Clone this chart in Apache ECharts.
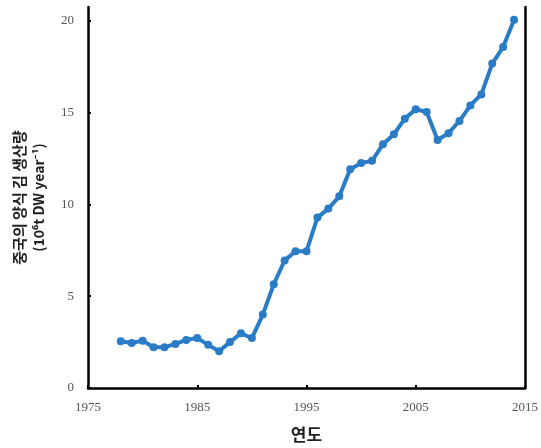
<!DOCTYPE html>
<html>
<head>
<meta charset="utf-8">
<script src="https://cdn.jsdelivr.net/npm/echarts@6/dist/echarts.min.js"></script>
<style>
  html, body { margin: 0; padding: 0; background: #fff; }
  #chart { width: 541px; height: 448px; }
</style>
</head>
<body>
<div id="chart"></div>
<script>
// 연도별 중국 양식 김 생산량
const years = [1978, 1979, 1980, 1981, 1982, 1983, 1984, 1985, 1986, 1987,
  1988, 1989, 1990, 1991, 1992, 1993, 1994, 1995, 1996, 1997,
  1998, 1999, 2000, 2001, 2002, 2003, 2004, 2005, 2006, 2007,
  2008, 2009, 2010, 2011, 2012, 2013, 2014]
const production = [2.55, 2.45, 2.58, 2.22, 2.22, 2.4, 2.62, 2.72, 2.35, 2.0,
  2.5, 2.98, 2.72, 4.0, 5.65, 6.95, 7.45, 7.45, 9.28, 9.77,
  10.44, 11.92, 12.25, 12.37, 13.28, 13.82, 14.67, 15.18, 15.03, 13.51,
  13.88, 14.54, 15.39, 15.99, 17.67, 18.57, 20.05]

const xTicks = [1975, 1985, 1995, 2005, 2015]
const yTicks = [0, 5, 10, 15, 20]

const chart = echarts.init(document.getElementById('chart'))

const serif = "'Liberation Serif', 'DejaVu Serif', serif"
const kor = "'Noto Sans CJK KR', 'Noto Sans', sans-serif"

let seriesData = years.map((y, i) => [y, production[i]])

chart.setOption({
  animation: false,
  grid: { left: 88, right: 16, top: 7, bottom: 58 },
  xAxis: {
    type: 'value',
    min: xTicks[0],
    max: xTicks[xTicks.length - 1],
    interval: 10,
    name: '연도',
    nameLocation: 'middle',
    nameGap: 38,
    nameTextStyle: { fontFamily: kor, fontWeight: 'bold', fontSize: 17, color: '#222' },
    axisLine: { lineStyle: { color: '#000', width: 2.5 } },
    axisTick: { inside: true, length: 3, lineStyle: { color: '#000', width: 2 } },
    axisLabel: { fontFamily: serif, fontSize: 13, color: '#555', margin: 13, formatter: v => String(v) },
    splitLine: { show: false }
  },
  yAxis: [{
    type: 'value',
    min: yTicks[0],
    max: 20.75,
    interval: 5,
    name: '{a|중국의 양식 김 생산량}\n{b|(10⁶t DW year⁻¹)}',
    nameLocation: 'middle',
    nameRotate: 90,
    nameGap: 39,
    nameTextStyle: {
      rich: {
        a: { fontFamily: kor, fontWeight: 'bold', fontSize: 15, color: '#222', lineHeight: 20 },
        b: { fontFamily: kor, fontWeight: 'bold', fontSize: 14, color: '#222', lineHeight: 20 }
      }
    },
    axisLine: { show: true, lineStyle: { color: '#000', width: 2.5 } },
    axisTick: { inside: true, length: 3, lineStyle: { color: '#000', width: 2 } },
    axisLabel: { fontFamily: serif, fontSize: 13, color: '#555', margin: 14, showMaxLabel: false },
    splitLine: { show: false }
  }, {
    type: 'value',
    position: 'right',
    min: 0,
    max: 20.75,
    axisLine: { show: true, lineStyle: { color: '#000', width: 2.5 } },
    axisTick: { show: false },
    axisLabel: { show: false },
    splitLine: { show: false }
  }],
  series: [{
    type: 'line',
    data: seriesData,
    symbol: 'circle',
    symbolSize: 8,
    lineStyle: { color: '#2a7cc6', width: 4 },
    itemStyle: { color: '#2a7cc6' }
  }]
})
</script>
</body>
</html>
